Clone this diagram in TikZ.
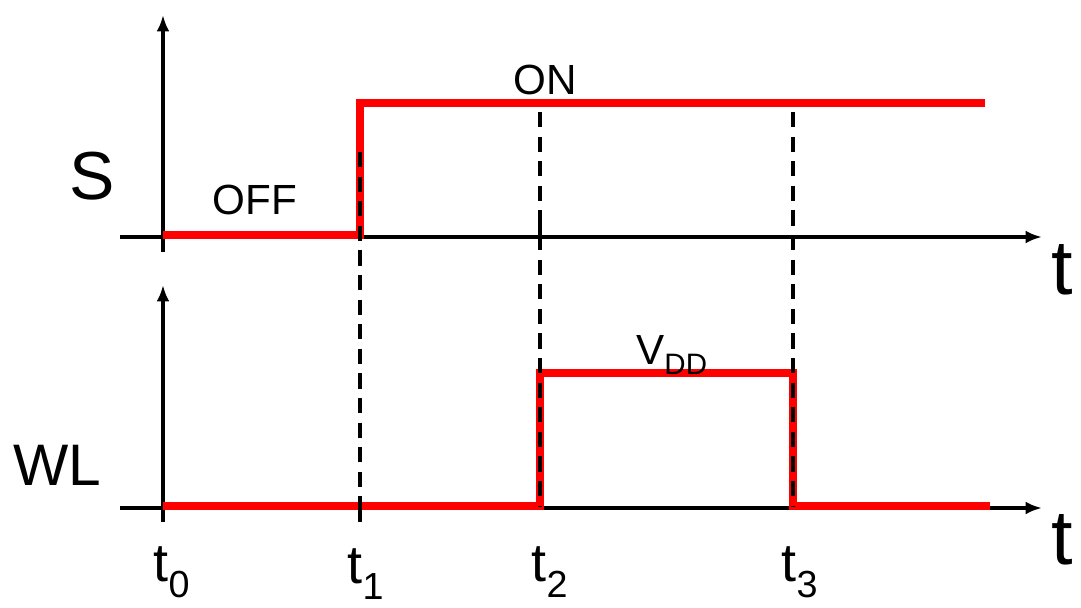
\documentclass[tikz,border=0pt]{standalone}
\usepackage{fontspec}
\setmainfont{Liberation Sans}
\usetikzlibrary{arrows.meta}

\begin{document}
\begin{tikzpicture}[
    x=0.03cm, y=-0.03cm,
    >={Latex[length=14pt,width=11pt]},
    axisline/.style={draw=black, line width=3pt},
    sigline/.style={draw=red, line width=6.5pt, line join=miter},
    guideline/.style={draw=black, line width=3.2pt, dash pattern=on 13pt off 8pt},
    biglbl/.style={font=\fontsize{58}{58}\selectfont, inner sep=0pt},
    tlbl/.style={font=\fontsize{46}{46}\selectfont, inner sep=0pt},
    statelbl/.style={font=\fontsize{36}{36}\selectfont, inner sep=0pt}
]
\useasboundingbox (0,0) rectangle (1081,607);

% axes
\coordinate (topo)   at (163,237);
\coordinate (boto)   at (163,508);
\coordinate (topy)   at (163,15);
\coordinate (boty)   at (163,285);
\coordinate (topx)   at (1042,237);
\coordinate (botx)   at (1042,508);

\draw[axisline, ->] (163,252) -- (topy);
\draw[axisline, ->] (120,237) -- (topx);
\draw[axisline, ->] (163,522) -- (boty);
\draw[axisline, ->] (120,508) -- (botx);
\draw[axisline] (360,508) -- (360,522);
\draw[axisline] (540,225) -- (540,245);

% signals
\draw[sigline] (163,235) -- (360,235) -- (360,103) -- (985,103);
\draw[sigline] (163,506) -- (540,506) -- (540,373) -- (793,373)
    -- (793,506) -- (990,506);

% guides
\draw[guideline] (360,152) -- (360,516);
\draw[guideline] (540,112) -- (540,506);
\draw[guideline] (793,112) -- (793,506);

% labels
\node[biglbl] (slbl)  at (92,176)  {S};
\node[biglbl, font=\fontsize{50}{50}\selectfont] (wllbl) at (57,465) {WL};
\node[biglbl, font=\fontsize{66}{66}\selectfont] (taxt) at (1062,270) {t};
\node[biglbl, font=\fontsize{66}{66}\selectfont] (baxt) at (1062,540) {t};
\node[statelbl] (off) at (255,200) {OFF};
\node[statelbl] (on)  at (545,80)  {ON};
\node[statelbl] (vdd) at (672,355) {V\textsubscript{DD}};

\node[tlbl] (t0) at (172,572) {t\textsubscript{0}};
\node[tlbl] (t1) at (366,574) {t\textsubscript{1}};
\node[tlbl] (t2) at (550,572) {t\textsubscript{2}};
\node[tlbl] (t3) at (800,572) {t\textsubscript{3}};
\end{tikzpicture}
\end{document}
